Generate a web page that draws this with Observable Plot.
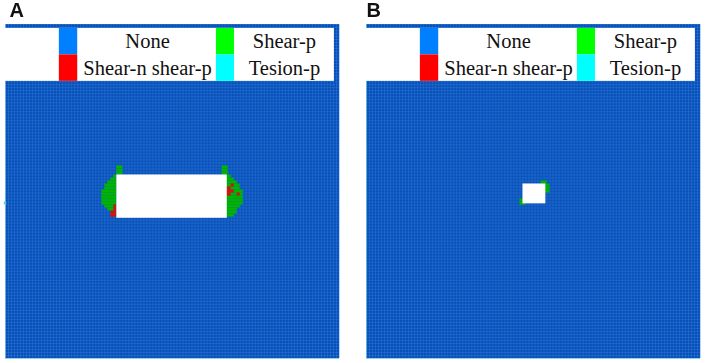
<!DOCTYPE html>
<html><head><meta charset="utf-8">
<script src="https://cdn.jsdelivr.net/npm/d3@7"></script>
<script src="https://cdn.jsdelivr.net/npm/@observablehq/plot@0.6"></script>
<style>
html,body{margin:0;padding:0;background:#fff;width:706px;height:363px;overflow:hidden}
#root{position:relative;width:706px;height:363px}
#root>div{position:absolute;top:0}
svg{display:block;filter:blur(0.35px)}
</style></head><body><div id="root"></div>
<script>
const meshSize = 111;
const states = ["None","Shear-p","Shear-n shear-p","Tesion-p"];
const stateColors = ["#0080ff","#00ff00","#ff0000","#00ffff"];
const meshColors = {"None":"#0850b8","Shear-p":"#00b400","Shear-n shear-p":"#d41010","Tesion-p":"#40e0d0"};

// legend: [state, column, row]
const legendEntries = [["None",0,0],["Shear-n shear-p",0,1],["Shear-p",1,0],["Tesion-p",1,1]];
const legendBox = {x1:0,x2:109.3,y1:1.3,y2:18.9};
const swatchCols = [[17.9,24],[70.1,76.1]];
const labelCols = [47.2,92.7];
const legendRows = [[1.3,10.1],[10.1,18.9]];

// plastic zone spans: [row, firstCol, endCol, state]
const spansA = [
  [47,37,39,"Shear-p"],[48,37,39,"Shear-p"],[49,37,39,"Shear-p"],
  [50,36,37,"Shear-p"],[51,35,37,"Shear-p"],[52,34,37,"Shear-p"],[53,33,37,"Shear-p"],
  [54,33,37,"Shear-p"],[55,32,37,"Shear-p"],[56,32,37,"Shear-p"],[57,32,37,"Shear-p"],
  [58,32,37,"Shear-p"],[59,32,37,"Shear-p"],[60,33,37,"Shear-p"],[61,34,37,"Shear-p"],
  [62,35,37,"Shear-p"],[63,36,37,"Shear-p"],
  [60,36,37,"Shear-n shear-p"],[61,36,37,"Shear-n shear-p"],[62,35,37,"Shear-n shear-p"],
  [63,35,37,"Shear-n shear-p"],
  [47,72,74,"Shear-p"],[48,72,74,"Shear-p"],[49,72,74,"Shear-p"],
  [50,73,75,"Shear-p"],[51,73,76,"Shear-p"],[52,73,77,"Shear-p"],[53,73,78,"Shear-p"],
  [54,73,78,"Shear-p"],[55,73,79,"Shear-p"],[56,73,79,"Shear-p"],[57,73,79,"Shear-p"],
  [58,73,79,"Shear-p"],[59,73,79,"Shear-p"],[60,73,78,"Shear-p"],[61,73,77,"Shear-p"],
  [62,73,77,"Shear-p"],[63,73,76,"Shear-p"],
  [53,75,76,"Shear-n shear-p"],[54,73,75,"Shear-n shear-p"],[55,73,76,"Shear-n shear-p"],
  [56,73,75,"Shear-n shear-p"],[56,77,78,"Shear-n shear-p"],
  [59,-0.4,0.4,"Tesion-p"]
];
const spansB = [
  [52,58,60,"Shear-p"],[53,59,61,"Shear-p"],[54,59,61,"Shear-p"],[55,59,61,"Shear-p"],
  [58,51,53,"Shear-p"],[59,51,53,"Shear-p"]
];
// openings: [firstCol, endCol, firstRow, endRow]
const holeA = [[37,73.7,50,64.4]];
const holeB = [[52,59.6,53,59.6]];
const meshLines = d3.range(0, meshSize + 1);
const meshBase = [{x1:0,x2:meshSize,y1:0,y2:meshSize,state:"None"}];

function panel(label, spans, hole, left, labelDx) {
  const meshFill = f => ({value: d => meshColors[f(d)], scale: null});
  const plot = Plot.plot({
    width: 345, height: 363,
    marginLeft: 5, marginRight: 6, marginTop: 24, marginBottom: 5,
    x: {domain: [0, meshSize], axis: null},
    y: {domain: [0, meshSize], reverse: true, axis: null},
    color: {domain: states, range: stateColors},
    style: {background: "transparent"},
    marks: [
      Plot.rect(meshBase, {x1: "x1", x2: "x2", y1: "y1", y2: "y2", fill: meshFill(d => d.state)}),
      Plot.ruleX(meshLines, {x: d => d, y1: 0, y2: meshSize, stroke: "#3a86e6", strokeOpacity: 0.35, strokeWidth: 1}),
      Plot.ruleY(meshLines, {y: d => d, x1: 0, x2: meshSize, stroke: "#3a86e6", strokeOpacity: 0.35, strokeWidth: 1}),
      Plot.ruleX([0], {y1: 0, y2: meshSize, stroke: "#7fd0e8", strokeOpacity: 0.7}),
      Plot.ruleY([meshSize], {x1: 0, x2: meshSize, stroke: "#7fd0e8", strokeOpacity: 0.7}),
      Plot.rect(spans, {x1: d => d[1], x2: d => d[2], y1: d => d[0], y2: d => d[0] + 1, fill: meshFill(d => d[3])}),
      Plot.rect(hole, {x1: d => d[0], x2: d => d[1], y1: d => d[2], y2: d => d[3], fill: "#fff"}),
      Plot.rect([legendBox], {x1: "x1", x2: "x2", y1: "y1", y2: "y2", fill: "#fff"}),
      Plot.rect(legendEntries, {
        x1: d => swatchCols[d[1]][0], x2: d => swatchCols[d[1]][1],
        y1: d => legendRows[d[2]][0], y2: d => legendRows[d[2]][1],
        fill: d => d[0]
      }),
      Plot.text(legendEntries, {
        x: d => labelCols[d[1]], y: d => (legendRows[d[2]][0] + legendRows[d[2]][1]) / 2,
        text: d => d[0], fill: "#111", fontFamily: "Liberation Serif", fontSize: 20.5, textAnchor: "middle", lineAnchor: "middle"
      }),
      Plot.text([label], {
        frameAnchor: "top-left", dx: labelDx, dy: -22, text: d => d,
        fontFamily: "Liberation Sans", fontWeight: "bold", fontSize: 20, fill: "#111",
        textAnchor: "start", lineAnchor: "top"
      })
    ]
  });
  const wrap = document.createElement("div");
  wrap.style.left = left + "px";
  wrap.appendChild(plot);
  document.getElementById("root").appendChild(wrap);
}
panel("A", spansA, holeA, 0, 4);
panel("B", spansB, holeB, 361, 0);
</script></body></html>
